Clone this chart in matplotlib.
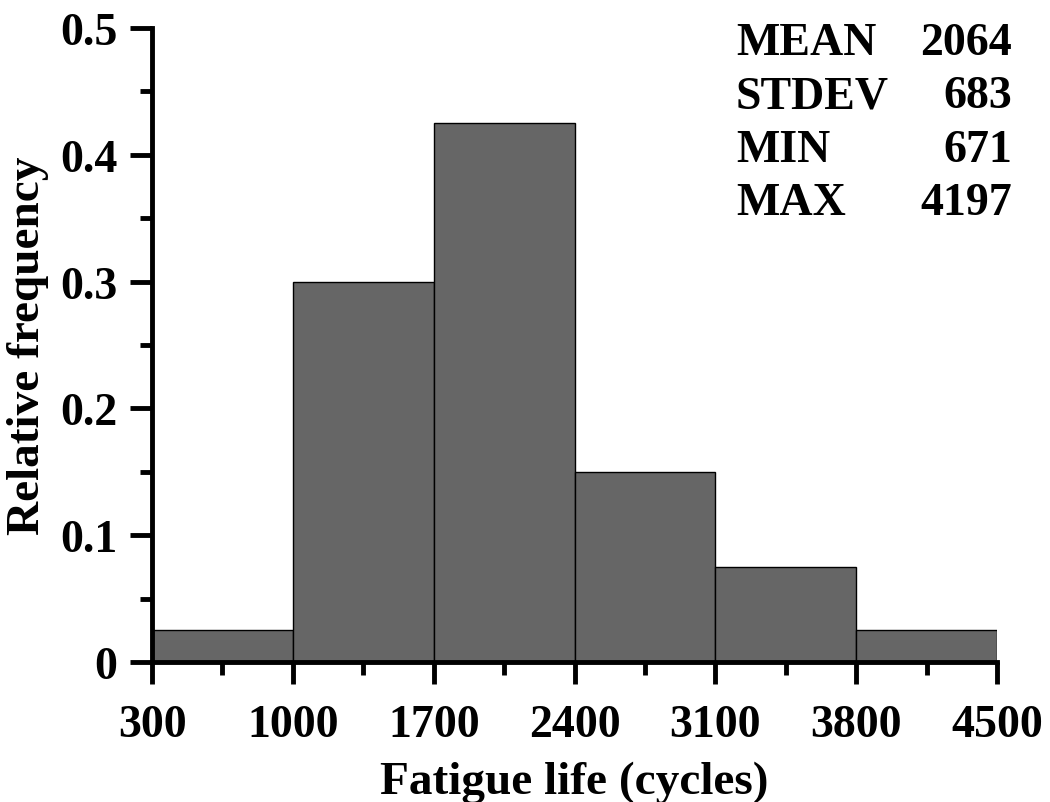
import numpy as np
import matplotlib.pyplot as plt
from matplotlib.ticker import FixedLocator, MultipleLocator

# bin edges and relative frequencies
bin_edges = [300, 1000, 1700, 2400, 3100, 3800, 4500]
rel_freq = [0.025, 0.300, 0.425, 0.150, 0.075, 0.025]
xticks = [300, 1000, 1700, 2400, 3100, 3800, 4500]
yticks = [0, 0.1, 0.2, 0.3, 0.4, 0.5]
ytick_labels = ['0', '0.1', '0.2', '0.3', '0.4', '0.5']
stat_names = ['MEAN', 'STDEV', 'MIN', 'MAX']
stat_values = ['2064', '683', '671', '4197']

plt.rcParams['font.family'] = ['Liberation Serif', 'DejaVu Serif']
plt.rcParams['font.weight'] = 'bold'

fig = plt.figure(figsize=(10.5, 8.03), dpi=100)
ax = fig.add_axes([0.1448, 0.1743, 0.8048, 0.7896])

widths = np.diff(bin_edges)
ax.bar(bin_edges[:-1], rel_freq, width=widths, align='edge',
       color='#666666', edgecolor='black', linewidth=1.0, zorder=2)

ax.set_xlim(300, 4500)
ax.set_ylim(0, 0.5)
ax.set_xticks(xticks)
ax.set_xticklabels([str(v) for v in xticks])
# minor ticks halfway between the major ones
x_minor = [(a + b) / 2 for a, b in zip(xticks[:-1], xticks[1:])]
ax.xaxis.set_minor_locator(FixedLocator(x_minor))
ax.set_yticks(yticks)
ax.set_yticklabels(ytick_labels)
ax.yaxis.set_minor_locator(MultipleLocator(0.05))

for s in ['top', 'right']:
    ax.spines[s].set_visible(False)
for s in ['left', 'bottom']:
    ax.spines[s].set_linewidth(3.5)

ax.tick_params(axis='both', which='major', direction='out', length=16,
               width=3.5, labelsize=33)
ax.tick_params(axis='both', which='minor', direction='out', length=9,
               width=3.5)
ax.tick_params(axis='x', which='major', pad=14)
ax.tick_params(axis='y', which='major', pad=9)
for lab in ax.get_xticklabels() + ax.get_yticklabels():
    lab.set_fontweight('bold')

ax.set_xlabel('Fatigue life (cycles)', fontsize=34, fontweight='bold', labelpad=11)
ax.set_ylabel('Relative frequency', fontsize=34, fontweight='bold', labelpad=8)

# summary statistics in the upper right corner
for i, (name, val) in enumerate(zip(stat_names, stat_values)):
    yb = 1 - (55 + 53.3 * i) / 803
    fig.text(736 / 1050, yb, name, fontsize=33, fontweight='bold',
             ha='left', va='baseline')
    fig.text(1012 / 1050, yb, val, fontsize=33, fontweight='bold',
             ha='right', va='baseline')

fig.savefig('out.png', dpi=100)
